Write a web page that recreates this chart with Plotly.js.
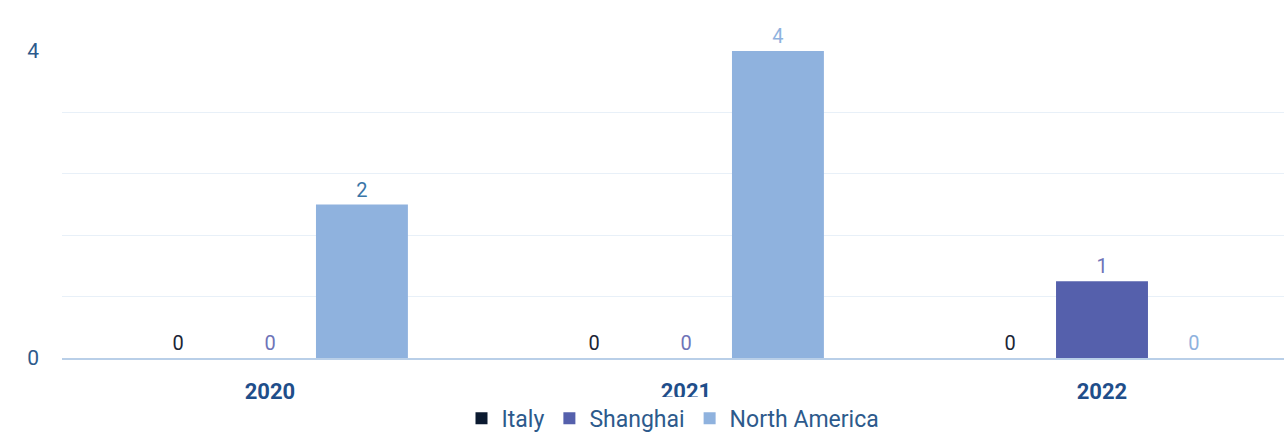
<!DOCTYPE html>
<html><head><meta charset="utf-8">
<script src="https://cdn.plot.ly/plotly-3.0.1.min.js"></script>
<style>html,body{margin:0;padding:0;background:#fff}#chart{width:1284px;height:438px}</style>
</head><body><div id="chart"></div>
<script>
const years = ['2020', '2021', '2022'];
const italy = [0, 0, 0];
const shanghai = [0, 0, 1];
const northAmerica = [2, 4, 0];
const yTickVals = [0, 0.8, 1.6, 2.4, 3.2, 4];
const yTickText = ['0', '', '', '', '', '4'];

const font = 'Roboto, "Open Sans", sans-serif';
function tr(name, vals, color, textColor) {
  return {
    type: 'bar', name: name, x: years, y: vals,
    marker: {color: color},
    text: vals.map(String), textposition: 'outside', cliponaxis: false,
    textfont: {family: font, size: 20, color: textColor},
    hoverinfo: 'none'
  };
}
const data = [
  tr('Italy', italy, '#0b1a30', '#1a2535'),
  tr('Shanghai', shanghai, '#5560ac', '#6e74b8'),
  tr('North America', northAmerica, '#8fb2de', ['#3a76a8', '#8fb2de', '#8fb2de'])
];
const layout = {
  width: 1284, height: 438,
  margin: {l: 62, r: 0, t: 51, b: 80, autoexpand: false},
  barmode: 'group', bargap: 0.337, bargroupgap: 0,
  paper_bgcolor: '#fff', plot_bgcolor: '#fff',
  font: {family: font},
  xaxis: {
    type: 'category', range: [-0.5, 2.4375], fixedrange: true,
    showgrid: false, showline: true, linecolor: '#b9cfe8', linewidth: 1.5,
    zeroline: false, ticks: '', ticklabelstandoff: 13,
    tickfont: {family: font, size: 22, color: '#1f4e8a', weight: 'bold'}
  },
  yaxis: {
    range: [0, 4], tickmode: 'array', tickvals: yTickVals, ticktext: yTickText,
    showgrid: true, gridcolor: '#e8f0f8', gridwidth: 1, zeroline: false,
    showline: false, ticks: '', ticklabelstandoff: 22,
    tickfont: {family: font, size: 21, color: '#2d5a8c'}
  },
  showlegend: true,
  legend: {orientation: 'h', x: 0.5, xanchor: 'center', yref: 'container', y: 0.045, yanchor: 'middle',
    font: {family: font, size: 23, color: '#2d5a8c'}, traceorder: 'normal'}
};
Plotly.newPlot('chart', data, layout, {displayModeBar: false, staticPlot: true});
</script></body></html>
